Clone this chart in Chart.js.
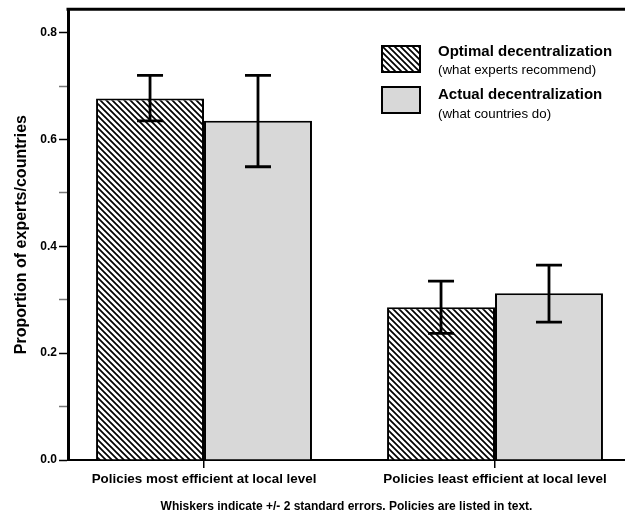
<!DOCTYPE html>
<html>
<head>
<meta charset="utf-8">
<title>Optimal vs actual decentralization</title>
<script src="https://cdn.jsdelivr.net/npm/chart.js@4.4.1/dist/chart.umd.min.js"></script>
<style>
  body { margin: 0; background: #fff; }
  #wrap { width: 625px; height: 520px; }
</style>
</head>
<body>
<div id="wrap"><canvas id="chart" width="625" height="520"></canvas></div>
<script>
const categories = ['Policies most efficient at local level', 'Policies least efficient at local level'];
const optimal = [0.677, 0.286];
const optimalLow = [0.635, 0.237];
const optimalHigh = [0.720, 0.335];
const actual = [0.635, 0.312];
const actualLow = [0.549, 0.258];
const actualHigh = [0.720, 0.365];
const yTicks = [0, 0.1, 0.2, 0.3, 0.4, 0.5, 0.6, 0.7, 0.8];
const yTickLabels = ['0.0', '', '0.2', '', '0.4', '', '0.6', '', '0.8'];
const legendTitles = ['Optimal decentralization', 'Actual decentralization'];
const legendNotes = ['(what experts recommend)', '(what countries do)'];
const caption = 'Whiskers indicate +/- 2 standard errors. Policies are listed in text.';

const FONT = "'Liberation Sans', Arial, Helvetica, sans-serif";

// diagonal hatch for the "optimal" bars
function makeHatch() {
    const c = document.createElement('canvas');
    c.width = 6; c.height = 6;
    const g = c.getContext('2d');
    g.fillStyle = '#fff';
    g.fillRect(0, 0, 6, 6);
    g.strokeStyle = '#000';
    g.lineWidth = 1.7;
    g.beginPath();
    g.moveTo(-1, -1); g.lineTo(7, 7);
    g.moveTo(-1, 5); g.lineTo(1, 7);
    g.moveTo(5, -1); g.lineTo(7, 1);
    g.stroke();
    return g.createPattern(c, 'repeat');
}
const hatch = makeHatch();
const grey = '#d8d8d8';

const whiskers = {
    id: 'whiskers',
    afterDatasetsDraw(chart) {
        const ctx = chart.ctx;
        const y = chart.scales.y;
        const lows = [optimalLow, actualLow];
        const highs = [optimalHigh, actualHigh];
        ctx.save();
        ctx.strokeStyle = '#000';
        ctx.lineWidth = 2.8;
        chart.data.datasets.forEach((ds, i) => {
            chart.getDatasetMeta(i).data.forEach((bar, j) => {
                const top = y.getPixelForValue(highs[i][j]);
                const bot = y.getPixelForValue(lows[i][j]);
                ctx.beginPath();
                ctx.moveTo(bar.x, top); ctx.lineTo(bar.x, bot);
                ctx.moveTo(bar.x - 13, top); ctx.lineTo(bar.x + 13, top);
                ctx.moveTo(bar.x - 13, bot); ctx.lineTo(bar.x + 13, bot);
                ctx.stroke();
            });
        });
        ctx.restore();
    }
};

// top frame line + two-line legend inside the plot
const frameAndLegend = {
    id: 'frameAndLegend',
    afterDraw(chart) {
        const ctx = chart.ctx;
        const a = chart.chartArea;
        ctx.save();
        ctx.strokeStyle = '#000';
        ctx.lineWidth = 3;
        ctx.beginPath();
        ctx.moveTo(a.left - 1.5, a.top);
        ctx.lineTo(a.right, a.top);
        ctx.stroke();

        const fills = [hatch, grey];
        ctx.textBaseline = 'alphabetic';
        for (let i = 0; i < 2; i++) {
            const by = 46 + i * 41;
            ctx.fillStyle = fills[i];
            ctx.fillRect(382, by, 38, 26);
            ctx.lineWidth = 2;
            ctx.strokeStyle = '#000';
            ctx.strokeRect(382, by, 38, 26);
            ctx.fillStyle = '#000';
            ctx.font = 'bold 15px ' + FONT;
            ctx.fillText(legendTitles[i], 438, 56 + i * 43);
            ctx.font = '13.3px ' + FONT;
            ctx.fillText(legendNotes[i], 438, 74 + i * 44);
        }
        ctx.restore();
    }
};

new Chart(document.getElementById('chart'), {
    type: 'bar',
    data: {
        datasets: [{
            label: legendTitles[0],
            data: optimal.map((v, i) => ({ x: i, y: v })),
            backgroundColor: hatch,
            borderColor: '#000',
            borderWidth: 2
        }, {
            label: legendTitles[1],
            data: actual.map((v, i) => ({ x: i, y: v })),
            backgroundColor: grey,
            borderColor: '#000',
            borderWidth: 2
        }]
    },
    options: {
        responsive: false,
        animation: false,
        categoryPercentage: 0.742,
        barPercentage: 1,
        layout: { padding: { top: 8 } },
        scales: {
            x: {
                type: 'linear',
                min: -0.4674,
                max: 1.4467,
                offset: false,
                afterBuildTicks(scale) {
                    scale.ticks = categories.map((c, i) => ({ value: i }));
                },
                afterFit(scale) { scale.height = 60; },
                grid: { display: true, drawOnChartArea: false, offset: false, tickLength: 8, color: '#000', lineWidth: 1.5 },
                border: { color: '#000', width: 2 },
                ticks: {
                    autoSkip: false,
                    maxRotation: 0,
                    padding: 3,
                    color: '#000',
                    font: { family: FONT, size: 13.4, weight: 'bold' },
                    callback: (v) => categories[v]
                },
                title: {
                    display: true,
                    text: caption,
                    color: '#000',
                    font: { family: FONT, size: 12, weight: 'bold', lineHeight: 1.2 },
                    padding: { top: 0, bottom: 6 }
                }
            },
            y: {
                min: 0,
                max: 0.844,
                afterBuildTicks(scale) {
                    scale.ticks = yTicks.map(v => ({ value: v }));
                },
                afterFit(scale) { scale.width = 68; },
                grid: {
                    drawOnChartArea: false,
                    tickLength: 9,
                    tickColor: (c) => yTickLabels[c.index] ? '#000' : '#777',
                    tickWidth: 1.5
                },
                border: { color: '#000', width: 3 },
                ticks: {
                    autoSkip: false,
                    padding: 2,
                    color: '#000',
                    font: { family: FONT, size: 12, weight: 'bold' },
                    callback: (v, i) => yTickLabels[i]
                },
                title: {
                    display: true,
                    text: 'Proportion of experts/countries',
                    color: '#000',
                    font: { family: FONT, size: 16, weight: 'bold' },
                    padding: { top: 12, bottom: 0 }
                }
            }
        },
        plugins: {
            legend: { display: false },
            tooltip: { enabled: false }
        }
    },
    plugins: [whiskers, frameAndLegend]
});
</script>
</body>
</html>
